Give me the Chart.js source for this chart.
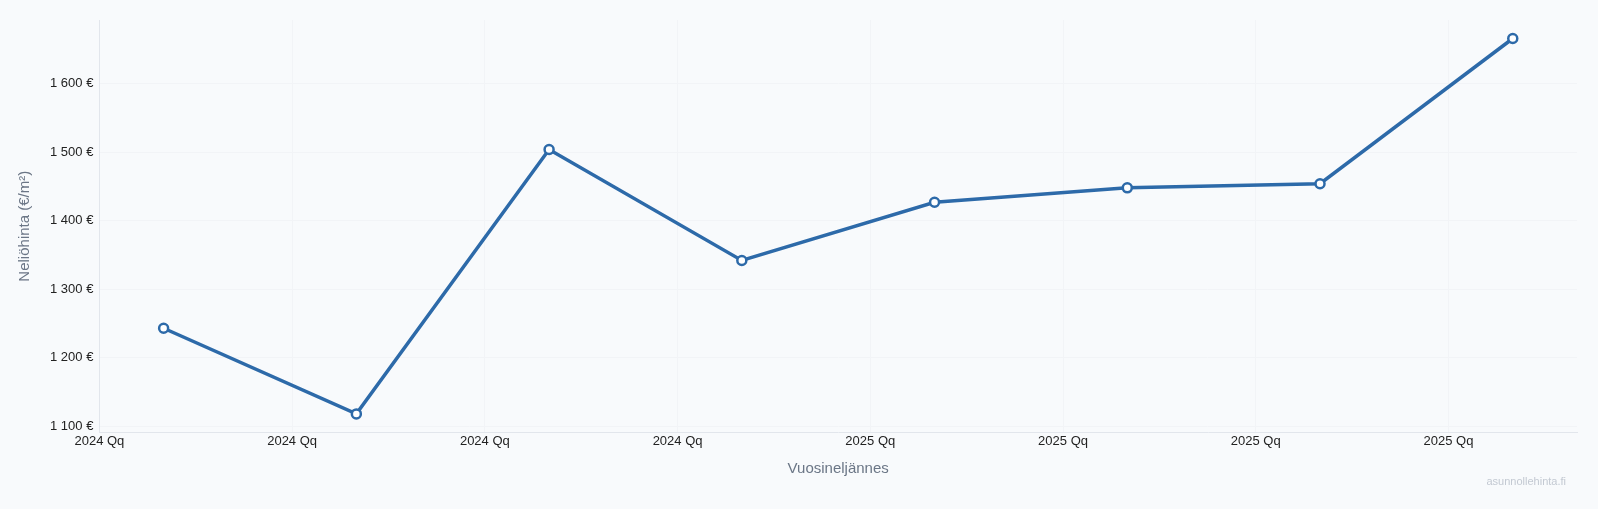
<!DOCTYPE html>
<html lang="fi">
<head>
  <meta charset="UTF-8">
  <title>Neliöhinta vuosineljänneksittäin</title>
  <style>
    html, body { margin: 0; padding: 0; background: #f8fafc; }
    #wrap { position: relative; width: 1598px; height: 509px; }
    #mark { position: absolute; right: 32px; bottom: 22px; font: 11px "Liberation Sans", Arial, sans-serif; color: #c3c9d2; }
  </style>
</head>
<body>
  <div id="wrap">
    <canvas id="hinta" width="1598" height="509"></canvas>
    <div id="mark">asunnollehinta.fi</div>
  </div>

  <script src="https://cdn.jsdelivr.net/npm/chart.js"></script>
  <script>
    // kuukaudet joihin mittaus osuu (vuosi-kk)
    const kuukaudet = ['2024-02', '2024-05', '2024-08', '2024-11', '2025-02', '2025-05', '2025-08', '2025-11'];
    const hinnat = [1243, 1118, 1504, 1342, 1427, 1448, 1454, 1666];
    const tickLabels = ['2024 Qq', '2024 Qq', '2024 Qq', '2024 Qq', '2025 Qq', '2025 Qq', '2025 Qq', '2025 Qq'];

    // vuosineljännes-yksiköiksi alkaen 2024 Q1
    function qPos(ym) {
      const [y, m] = ym.split('-').map(Number);
      return (y - 2024) * 4 + (m - 1) / 3;
    }

    const pisteet = kuukaudet.map((k, i) => ({ x: qPos(k), y: hinnat[i] }));
    const fmt = v => Math.round(v).toLocaleString('fi-FI') + ' €';

    const ctx = document.getElementById('hinta').getContext('2d');
    new Chart(ctx, {
      type: 'line',
      data: {
        datasets: [{
          label: 'Neliöhinta',
          data: pisteet,
          borderColor: '#2d6aa9',
          borderWidth: 3.5,
          pointRadius: 4.5,
          pointBorderWidth: 2.5,
          pointBackgroundColor: '#ffffff',
          pointBorderColor: '#2d6aa9',
          tension: 0
        }]
      },
      options: {
        responsive: false,
        animation: false,
        layout: { padding: { left: 12, right: 21, top: 20, bottom: 27 } },
        plugins: { legend: { display: false }, tooltip: { enabled: false } },
        scales: {
          x: {
            type: 'linear',
            min: 0,
            max: qPos('2025-12'),
            afterBuildTicks: ax => { ax.ticks = tickLabels.map((t, i) => ({ value: i })); },
            ticks: {
              callback: v => tickLabels[v],
              color: '#222',
              font: { family: 'Liberation Sans', size: 13 },
              maxRotation: 0,
              padding: 1
            },
            grid: { color: '#f2f4f7', drawTicks: false },
            border: { color: '#e2e6ec' },
            title: {
              display: true,
              text: 'Vuosineljännes',
              color: '#6b7686',
              font: { family: 'Liberation Sans', size: 15 },
              padding: { top: 10 }
            }
          },
          y: {
            min: 1091,
            max: 1693,
            afterBuildTicks: ax => { ax.ticks = [1100, 1200, 1300, 1400, 1500, 1600].map(v => ({ value: v })); },
            ticks: {
              callback: fmt,
              color: '#222',
              font: { family: 'Liberation Sans', size: 13 },
              padding: 6
            },
            grid: { color: '#f2f4f7', drawTicks: false },
            border: { color: '#e2e6ec' },
            title: {
              display: true,
              text: 'Neliöhinta (€/m²)',
              color: '#6b7686',
              font: { family: 'Liberation Sans', size: 15 },
              padding: { bottom: 10 }
            }
          }
        }
      }
    });
  </script>
</body>
</html>
